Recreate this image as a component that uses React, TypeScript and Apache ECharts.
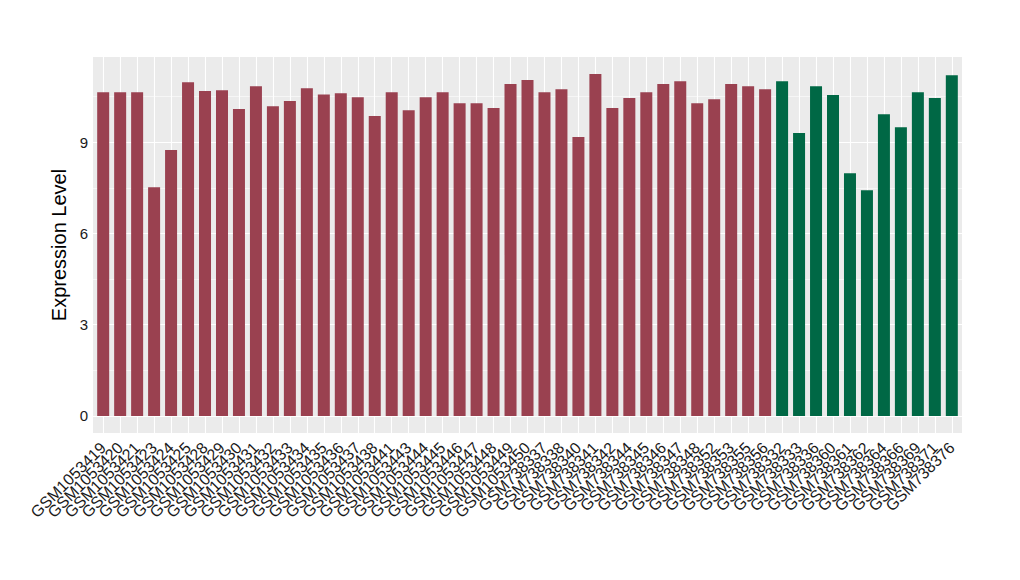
import React, { useEffect, useRef } from "react";
import * as echarts from "echarts";

const categories = [
  "GSM1053419", "GSM1053420", "GSM1053421", "GSM1053423", "GSM1053424", "GSM1053425",
  "GSM1053428", "GSM1053429", "GSM1053430", "GSM1053431", "GSM1053432", "GSM1053433",
  "GSM1053434", "GSM1053435", "GSM1053436", "GSM1053437", "GSM1053438", "GSM1053441",
  "GSM1053443", "GSM1053444", "GSM1053445", "GSM1053446", "GSM1053447", "GSM1053448",
  "GSM1053449", "GSM1053450", "GSM738337", "GSM738338", "GSM738340", "GSM738341",
  "GSM738342", "GSM738344", "GSM738345", "GSM738346", "GSM738347", "GSM738348",
  "GSM738352", "GSM738353", "GSM738355", "GSM738356", "GSM738332", "GSM738333",
  "GSM738336", "GSM738360", "GSM738361", "GSM738362", "GSM738364", "GSM738366",
  "GSM738369", "GSM738371", "GSM738376",
];

const redValues = [
  10.64, 10.64, 10.64, 7.52, 8.74, 10.97, 10.68, 10.71, 10.09, 10.84, 10.18, 10.35,
  10.77, 10.57, 10.61, 10.48, 9.86, 10.64, 10.05, 10.48, 10.64, 10.28, 10.28, 10.12,
  10.91, 11.04, 10.64, 10.74, 9.17, 11.24, 10.12, 10.45, 10.64, 10.91, 11.0, 10.28,
  10.41, 10.91, 10.84, 10.74,
];

const greenValues = [11.0, 9.3, 10.84, 10.55, 7.98, 7.42, 9.92, 9.49, 10.64, 10.45, 11.2];

const yTicks = [0, 3, 6, 9];
const yGridLines = [0, 1.5, 3, 4.5, 6, 7.5, 9, 10.5];

export default function App() {
  const ref = useRef<HTMLDivElement>(null);
  useEffect(() => {
    document.body.style.margin = "0";
    if (!ref.current) return;
    const chart = echarts.init(ref.current, null, { renderer: "svg" });
    const idx = categories.map((_, i) => i);
    const labelValues = [-0.55, ...idx, categories.length - 0.45];
    const redData = redValues.map((v, i) => [i, v]);
    const greenData = greenValues.map((v, i) => [i + redValues.length, v]);
    const gridLines: any[] = [];
    yGridLines.forEach((v) => {
      gridLines.push({ yAxis: v, lineStyle: { color: "#ffffff", width: v % 3 === 0 ? 1.1 : 0.55, type: "solid" } });
    });
    idx.forEach((i) => {
      gridLines.push({ xAxis: i, lineStyle: { color: "#ffffff", width: 1.1, type: "solid" } });
    });
    chart.setOption({
      animation: false,
      backgroundColor: "#ffffff",
      grid: {
        left: 93,
        right: 58,
        top: 57,
        bottom: 147,
        show: true,
        backgroundColor: "#EBEBEB",
        borderWidth: 0,
      },
      xAxis: {
        type: "value",
        min: -0.6,
        max: categories.length - 0.4,
        axisLine: { show: false },
        splitLine: { show: false },
        axisTick: {
          show: true,
          length: 3,
          lineStyle: { color: "#333333" },
          customValues: idx,
        },
        axisLabel: {
          customValues: labelValues,
          formatter: (v: number) => (Number.isInteger(v) ? categories[v] ?? "" : ""),
          rotate: 45,
          fontSize: 16,
          color: "#1a1a1a",
          fontFamily: "Liberation Sans, Arial, sans-serif",
          margin: 12,
          hideOverlap: false,
        },
      },
      yAxis: {
        type: "value",
        min: -0.5625,
        max: 11.8,
        name: "Expression Level",
        nameLocation: "middle",
        nameGap: 22,
        nameTextStyle: {
          fontSize: 20,
          color: "#000000",
          fontFamily: "Liberation Sans, Arial, sans-serif",
        },
        axisLine: { show: false },
        splitLine: { show: false },
        axisTick: {
          show: true,
          length: 3,
          lineStyle: { color: "#333333" },
          customValues: yTicks,
        },
        axisLabel: {
          customValues: yTicks,
          fontSize: 15,
          color: "#1a1a1a",
          fontFamily: "Liberation Sans, Arial, sans-serif",
          margin: 5,
          hideOverlap: false,
          showMinLabel: true,
          showMaxLabel: true,
        },
      },
      series: [
        {
          type: "line",
          data: [],
          z: 1,
          silent: true,
          markLine: {
            silent: true,
            symbol: "none",
            z: 1,
            label: { show: false },
            emphasis: { disabled: true },
            data: gridLines,
          },
        },
        {
          type: "bar",
          data: redData,
          barWidth: 12,
          barGap: "-100%",
          z: 3,
          itemStyle: { color: "#9A4150" },
        },
        {
          type: "bar",
          data: greenData,
          barWidth: 12,
          barGap: "-100%",
          z: 3,
          itemStyle: { color: "#006845" },
        },
      ],
    });
    return () => chart.dispose();
  }, []);
  return <div ref={ref} style={{ width: 1020, height: 580 }} />;
}
